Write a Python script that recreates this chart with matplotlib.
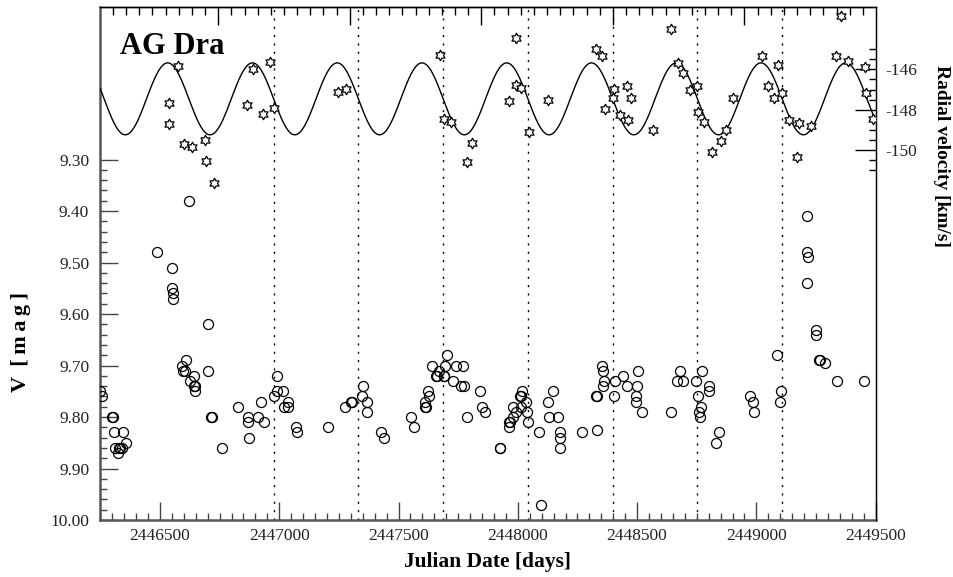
import numpy as np
import matplotlib
matplotlib.use('Agg')
import matplotlib.pyplot as plt
from matplotlib.path import Path
from matplotlib.ticker import MultipleLocator, FixedLocator, FormatStrFormatter, NullFormatter

# V photometry (JD, mag)
v_jd = [2446249, 2446258, 2446300, 2446304, 2446307, 2446343, 2446311, 2446330, 2446332, 2446339,
        2446325, 2446357,
        2446486, 2446549, 2446550, 2446553, 2446553, 2446623, 2446701,
        2446591, 2446608, 2446597, 2446604, 2446644, 2446624, 2446643, 2446646, 2446647, 2446701,
        2446714, 2446717, 2446761, 2446825, 2446867, 2446867, 2446874, 2446909, 2446923, 2446937,
        2446979, 2446989, 2446989, 2447017, 2447021, 2447038, 2447038, 2447069, 2447075,
        2447204, 2447275, 2447301, 2447305, 2447352, 2447347, 2447366, 2447367, 2447425, 2447437,
        2447553, 2447565, 2447609, 2447612, 2447614, 2447624, 2447626, 2447641, 2447659, 2447663,
        2447668, 2447689, 2447692, 2447694, 2447701, 2447727, 2447742, 2447769, 2447760, 2447774,
        2447785, 2447841, 2447848, 2447861, 2447924, 2447926, 2447963, 2447964, 2447967, 2447981,
        2447981, 2447991, 2448016, 2448011, 2448013, 2448033, 2448013, 2448038, 2448041,
        2448087, 2448097, 2448125, 2448146, 2448129, 2448167, 2448176, 2448176, 2448176,
        2448271, 2448329, 2448331, 2448330, 2448351, 2448358, 2448361, 2448358, 2448407, 2448403,
        2448439, 2448458, 2448503, 2448498, 2448495, 2448494, 2448520,
        2448643, 2448666, 2448691, 2448680, 2448747, 2448772, 2448756, 2448766, 2448758, 2448763,
        2448801, 2448801, 2448842, 2448829, 2448973, 2448987, 2448988,
        2449085, 2449103, 2449097, 2449212, 2449212, 2449216, 2449213, 2449250, 2449250,
        2449264, 2449266, 2449287, 2449339, 2449451]
v_mag = [9.75, 9.76, 9.80, 9.80, 9.83, 9.83, 9.86, 9.86, 9.86, 9.86,
         9.87, 9.85,
         9.48, 9.51, 9.55, 9.56, 9.57, 9.38, 9.62,
         9.70, 9.69, 9.71, 9.71, 9.72, 9.73, 9.74, 9.74, 9.75, 9.71,
         9.80, 9.80, 9.86, 9.78, 9.80, 9.81, 9.84, 9.80, 9.77, 9.81,
         9.76, 9.72, 9.75, 9.75, 9.78, 9.78, 9.77, 9.82, 9.83,
         9.82, 9.78, 9.77, 9.77, 9.74, 9.76, 9.77, 9.79, 9.83, 9.84,
         9.80, 9.82, 9.77, 9.78, 9.78, 9.75, 9.76, 9.70, 9.72, 9.72,
         9.71, 9.72, 9.72, 9.70, 9.68, 9.73, 9.70, 9.70, 9.74, 9.74,
         9.80, 9.75, 9.78, 9.79, 9.86, 9.86, 9.82, 9.81, 9.81, 9.80,
         9.78, 9.79, 9.75, 9.76, 9.76, 9.77, 9.78, 9.79, 9.81,
         9.83, 9.97, 9.77, 9.75, 9.80, 9.80, 9.83, 9.84, 9.86,
         9.83, 9.76, 9.76, 9.825, 9.70, 9.71, 9.73, 9.74, 9.73, 9.76,
         9.72, 9.74, 9.71, 9.74, 9.76, 9.77, 9.79,
         9.79, 9.73, 9.73, 9.71, 9.73, 9.71, 9.76, 9.78, 9.79, 9.80,
         9.74, 9.75, 9.83, 9.85, 9.76, 9.77, 9.79,
         9.68, 9.75, 9.77, 9.41, 9.48, 9.49, 9.54, 9.63, 9.64,
         9.69, 9.69, 9.695, 9.73, 9.73]

# radial velocities (JD, km/s)
rv_jd = [2446577, 2446539, 2446539, 2446600, 2446634, 2446690, 2446694, 2446727, 2446864, 2446891,
         2446930, 2446962, 2446979, 2447247, 2447281, 2447673, 2447690, 2447718, 2447785, 2447809,
         2447964, 2447992, 2447991, 2448014, 2448048, 2448126, 2448327, 2448352, 2448404, 2448400,
         2448366, 2448428, 2448457, 2448460, 2448474, 2448568, 2448642, 2448671, 2448693, 2448721,
         2448749, 2448754, 2448780, 2448815, 2448851, 2448872, 2448900, 2449024, 2449047, 2449075,
         2449090, 2449107, 2449138, 2449169, 2449180, 2449228, 2449332, 2449353, 2449382, 2449455,
         2449459, 2449490]
rv_kms = [-145.83, -147.67, -148.71, -149.70, -149.82, -149.49, -150.53, -151.60, -147.76, -145.99,
          -148.20, -145.66, -147.92, -147.10, -146.95, -145.28, -148.45, -148.60, -150.59, -149.65,
          -147.56, -144.44, -146.77, -146.90, -149.11, -147.51, -144.99, -145.32, -146.98, -147.40,
          -147.96, -148.27, -146.83, -148.51, -147.43, -149.00, -144.01, -145.69, -146.16, -147.01,
          -146.82, -148.09, -148.61, -150.07, -149.57, -148.99, -147.43, -145.32, -146.82, -147.43,
          -145.78, -147.15, -148.53, -150.35, -148.66, -148.80, -145.32, -143.34, -145.61, -145.86,
          -147.18, -148.47]

# sine fit of RV and epochs (dotted lines)
P_rv = 355.3
T_rv = 2446976.4
gamma = -147.46
K_rv = 1.78
epochs = [2446976, 2447331, 2447687, 2448042, 2448397, 2448753, 2449108]

# orbital phase on top axis
P_orb = 551.5
T_orb = 2446744.0

plt.rcParams['font.family'] = ['Liberation Serif', 'DejaVu Serif']

fig = plt.figure(figsize=(9.54, 5.77), dpi=100)
ax = fig.add_axes([0.1052, 0.0988, 0.8127, 0.8896])
ax2 = ax.twinx()

ax.set_xlim(2446250, 2449500)
ax.set_ylim(10.0, 9.003)
ax2.set_ylim(-168.3, -142.9)

for e in epochs:
    ax.axvline(e, color='black', lw=1.0, dashes=(1.5, 4.5), zorder=1)

ax.plot(v_jd, v_mag, 'o', ms=7.2, mfc='none', mec='black', mew=0.9, zorder=3)

t = np.linspace(2446250, 2449500, 2000)
ax2.plot(t, gamma - K_rv * np.sin(2 * np.pi * (t - T_rv) / P_rv), color='black', lw=1.0, zorder=2)
star = Path.unit_regular_star(6, 0.577)
ax2.plot(rv_jd, rv_kms, ls='none', marker=star, ms=7.5, mfc='white', mec='black', mew=0.9, zorder=3)

# bottom axis
ax.xaxis.set_major_locator(MultipleLocator(500))
ax.xaxis.set_minor_locator(MultipleLocator(50))
ax.xaxis.set_major_formatter(FormatStrFormatter('%d'))
ax.tick_params(axis='x', which='major', direction='in', length=13, width=1.0, color='#444',
               labelsize=12.5, labelcolor='#222', pad=6, top=False)
ax.tick_params(axis='x', which='minor', direction='in', length=5, width=1.0, color='#444', top=False)

# left axis
ax.yaxis.set_major_locator(FixedLocator(np.round(np.arange(9.3, 10.001, 0.1), 2)))
ax.yaxis.set_minor_locator(FixedLocator(np.round(np.arange(9.3, 10.001, 0.02), 2)))
ax.yaxis.set_major_formatter(FormatStrFormatter('%.2f'))
ax.tick_params(axis='y', which='major', direction='in', length=13, width=1.0, color='#444',
               labelsize=12.5, labelcolor='#222', pad=8, right=False)
ax.tick_params(axis='y', which='minor', direction='in', length=5, width=1.0, color='#444', right=False)

# right axis
ax2.yaxis.set_major_locator(FixedLocator([-146, -148, -150]))
ax2.yaxis.set_minor_locator(FixedLocator(np.arange(-151, -144.9, 0.5)))
ax2.yaxis.set_major_formatter(FormatStrFormatter('%d'))
ax2.tick_params(axis='y', which='major', direction='in', length=15, width=1.0,
                labelsize=12.5, labelcolor='#222', pad=7)
ax2.tick_params(axis='y', which='minor', direction='in', length=5, width=1.0)

# top axis: orbital phase
sec = ax.secondary_xaxis('top', functions=(lambda x: (x - T_orb) / P_orb, lambda p: p * P_orb + T_orb))
sec.xaxis.set_major_locator(MultipleLocator(1))
sec.xaxis.set_minor_locator(MultipleLocator(0.1))
sec.xaxis.set_major_formatter(NullFormatter())
sec.tick_params(which='major', direction='in', length=13, width=1.0)
sec.tick_params(which='minor', direction='in', length=6, width=1.0)
sec.spines['top'].set_linewidth(1.0)

for s in ['left', 'bottom']:
    ax.spines[s].set_linewidth(1.8)
    ax.spines[s].set_color('#555')
for s in ['left', 'bottom', 'top']:
    ax2.spines[s].set_visible(False)
ax2.spines['right'].set_linewidth(1.0)
ax.spines['top'].set_linewidth(1.0)

fig.text(120 / 954, 1 - 53.5 / 577, 'AG Dra', fontsize=22, fontweight='bold', va='baseline', ha='left')
fig.text(488 / 954, 1 - 566.5 / 577, 'Julian Date [days]', fontsize=15.5, fontweight='bold',
         va='baseline', ha='center')
fig.text(21 / 954, 1 - 342 / 577, 'V\u2009 [\u2009m\u2009a\u2009g\u2009]', fontsize=16, fontweight='bold',
         rotation=90, va='center', ha='center')
fig.text(942 / 954, 1 - 156 / 577, 'Radial velocity [km/s]', fontsize=14, fontweight='bold',
         rotation=-90, va='center', ha='center')

fig.savefig('out.png', dpi=100)
